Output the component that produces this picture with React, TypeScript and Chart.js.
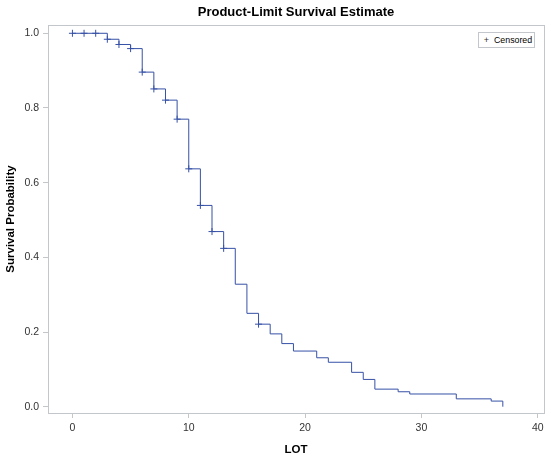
import { useEffect, useRef } from "react"
import { Chart, registerables } from "chart.js"

Chart.register(...registerables)

// Kaplan-Meier steps: time and survival after the event at that time
const stepTimes = [0, 3, 4, 5, 6, 7, 8, 9, 10, 11, 12, 13, 14, 15, 16, 17, 18, 19, 21, 22, 24, 25, 26, 28, 29, 33, 36, 37]
const stepSurvival = [
  1.0, 0.984, 0.97, 0.959, 0.896, 0.851, 0.821, 0.77, 0.637, 0.539, 0.469, 0.424, 0.328, 0.25, 0.221, 0.195,
  0.169, 0.149, 0.131, 0.119, 0.092, 0.073, 0.047, 0.04, 0.034, 0.021, 0.015, 0.0,
]

// Censored observations
const censorTimes = [0, 1, 2, 3, 4, 5, 6, 7, 8, 9, 10, 11, 12, 13, 16]
const censorSurvival = [1.0, 1.0, 1.0, 0.984, 0.97, 0.959, 0.896, 0.851, 0.821, 0.77, 0.637, 0.539, 0.469, 0.424, 0.221]

const xTicks = [0, 10, 20, 30, 40]
const yTicks = [0, 0.2, 0.4, 0.6, 0.8, 1.0]

const FONT = "'Liberation Sans', Arial, Helvetica, sans-serif"
const CURVE = "#3651a6"
const FRAME = "#c3c7cb"

const framePlugin = {
  id: "frame",
  beforeDatasetsDraw(chart: Chart) {
    const { ctx, chartArea } = chart
    const { left, top, right, bottom } = chartArea
    ctx.save()
    ctx.strokeStyle = FRAME
    ctx.lineWidth = 1
    ctx.strokeRect(left + 0.5, top + 0.5, right - left, bottom - top)
    ctx.restore()
  },
}

function SurvivalChart() {
  const chartRef = useRef<HTMLCanvasElement>(null)
  const chartInstance = useRef<Chart | null>(null)

  useEffect(() => {
    if (!chartRef.current) return
    if (chartInstance.current) chartInstance.current.destroy()

    const ctx = chartRef.current.getContext("2d")
    if (!ctx) return

    chartInstance.current = new Chart(ctx, {
      type: "line",
      data: {
        datasets: [
          {
            label: "Survival",
            data: stepTimes.map((t, i) => ({ x: t, y: stepSurvival[i] })),
            borderColor: CURVE,
            borderWidth: 1,
            stepped: true,
            pointRadius: 0,
            fill: false,
          },
          {
            type: "scatter",
            label: "Censored",
            data: censorTimes.map((t, i) => ({ x: t, y: censorSurvival[i] })),
            pointStyle: "cross",
            pointRadius: 3.5,
            borderColor: CURVE,
            backgroundColor: CURVE,
            pointBorderWidth: 1,
            showLine: false,
          },
        ],
      },
      options: {
        responsive: true,
        maintainAspectRatio: false,
        animation: false,
        layout: { padding: { left: 0, right: 7, top: 0, bottom: 0 } },
        plugins: {
          legend: { display: false },
          tooltip: { enabled: false },
          title: {
            display: true,
            fullSize: false,
            text: "Product-Limit Survival Estimate",
            color: "#000",
            font: { family: FONT, size: 13, weight: "bold" },
            padding: { top: 5, bottom: 4.4 },
          },
        },
        scales: {
          x: {
            type: "linear",
            min: -2.1,
            max: 40.54,
            afterBuildTicks: (scale) => {
              scale.ticks = xTicks.map((v) => ({ value: v }))
            },
            afterFit: (scale) => {
              scale.height = 49
            },
            grid: { display: true, drawOnChartArea: false, drawTicks: true, tickLength: 5, color: FRAME },
            border: { display: false },
            ticks: {
              color: "#333",
              padding: 4,
              maxRotation: 0,
              font: { family: FONT, size: 10.5 },
              callback: (v) => String(v),
            },
            title: {
              display: true,
              text: "LOT",
              color: "#000",
              font: { family: FONT, size: 11.5, weight: "bold" },
              padding: { top: 0, bottom: 5 },
            },
          },
          y: {
            type: "linear",
            min: -0.0169,
            max: 1.0222,
            afterBuildTicks: (scale) => {
              scale.ticks = yTicks.map((v) => ({ value: v }))
            },
            afterFit: (scale) => {
              scale.width = 48
            },
            grid: { display: true, drawOnChartArea: false, drawTicks: true, tickLength: 5, color: FRAME },
            border: { display: false },
            ticks: {
              color: "#333",
              padding: 4,
              font: { family: FONT, size: 10.5 },
              callback: (v) => Number(v).toFixed(1),
            },
            title: {
              display: true,
              text: "Survival Probability",
              color: "#000",
              font: { family: FONT, size: 11.5, weight: "bold" },
              padding: { top: 4, bottom: 0 },
            },
          },
        },
      },
      plugins: [framePlugin],
    })

    return () => {
      if (chartInstance.current) {
        chartInstance.current.destroy()
        chartInstance.current = null
      }
    }
  }, [])

  return <canvas ref={chartRef} />
}

export default function App() {
  return (
    <div style={{ position: "absolute", left: 0, top: 0, width: 551, height: 462, background: "#fff" }}>
      <SurvivalChart />
      <div
        style={{
          position: "absolute",
          left: 478,
          top: 32,
          width: 55,
          height: 14,
          border: `1px solid ${FRAME}`,
          background: "#fff",
          fontFamily: FONT,
          fontSize: 8.8,
          color: "#000",
          display: "flex",
          alignItems: "center",
          whiteSpace: "nowrap",
        }}
      >
        <span style={{ color: "#333", width: 15, textAlign: "center", fontSize: 9 }}>+</span>
        <span>Censored</span>
      </div>
    </div>
  )
}
